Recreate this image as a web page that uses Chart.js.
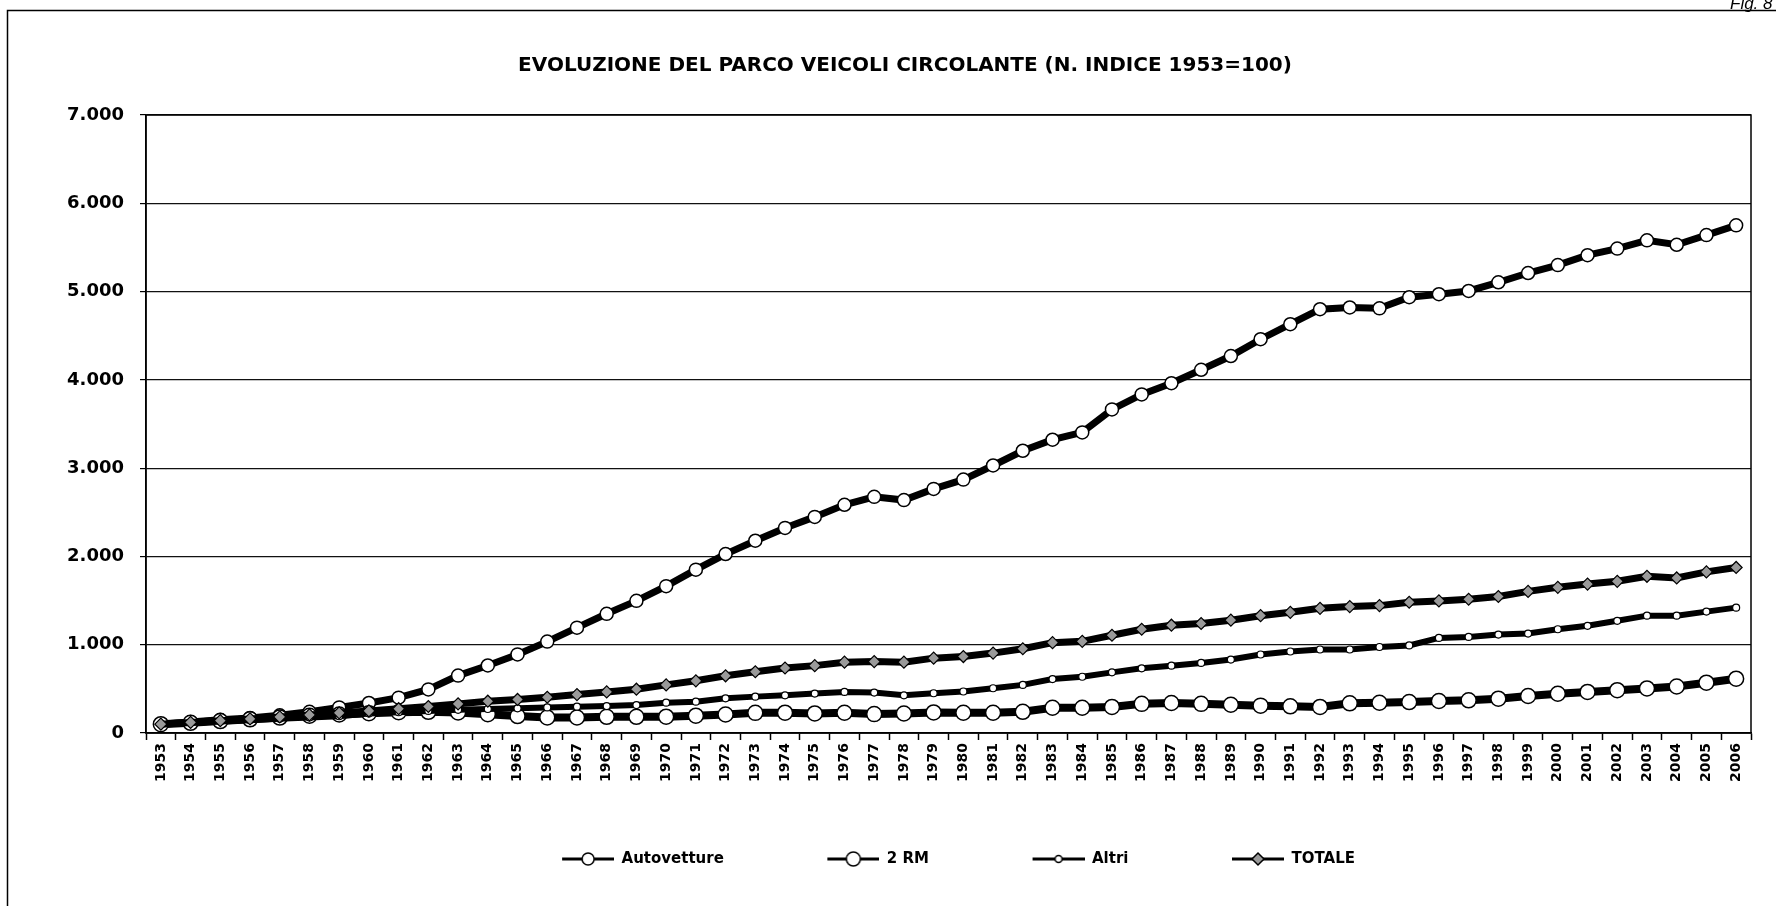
<!DOCTYPE html>
<html>
<head>
<meta charset="utf-8">
<script src="https://cdn.jsdelivr.net/npm/chart.js@4.4.1/dist/chart.umd.min.js"></script>
<style>
  html, body { margin: 0; padding: 0; background: #fff; }
  #wrap { width: 1776px; height: 906px; }
</style>
</head>
<body>
<div id="wrap"><canvas id="parco" width="1776" height="906"></canvas></div>
<script>
var anni = ["1953","1954","1955","1956","1957","1958","1959","1960","1961","1962",
  "1963","1964","1965","1966","1967","1968","1969","1970","1971","1972",
  "1973","1974","1975","1976","1977","1978","1979","1980","1981","1982",
  "1983","1984","1985","1986","1987","1988","1989","1990","1991","1992",
  "1993","1994","1995","1996","1997","1998","1999","2000","2001","2002",
  "2003","2004","2005","2006"];

var autovetture = [100, 125, 150, 170, 200, 240, 290, 340, 400, 494,
  650, 765, 890, 1035, 1193, 1350, 1497, 1663, 1850, 2027,
  2178, 2323, 2448, 2585, 2675, 2638, 2765, 2870, 3030, 3197,
  3322, 3405, 3665, 3835, 3962, 4114, 4270, 4460, 4630, 4800,
  4820, 4810, 4936, 4970, 5007, 5105, 5210, 5300, 5412, 5487,
  5580, 5530, 5640, 5750];

var dueRuote = [100, 115, 135, 155, 175, 195, 210, 225, 235, 240,
  232, 212, 192, 176, 176, 183, 183, 185, 196, 210,
  228, 230, 222, 229, 214, 221, 233, 229, 229, 240,
  286, 286, 295, 330, 340, 330, 320, 310, 302, 295,
  336, 343, 350, 362, 370, 389, 419, 445, 465, 485,
  505, 527, 570, 615];

var altri = [100, 115, 130, 145, 160, 175, 190, 220, 235, 250,
  262, 272, 280, 290, 298, 305, 316, 343, 355, 393,
  412, 427, 447, 465, 458, 427, 450, 470, 507, 545,
  611, 637, 687, 733, 763, 794, 832, 889, 923, 946,
  946, 974, 992, 1077, 1088, 1115, 1126, 1175, 1214, 1271,
  1329, 1329, 1375, 1420];

var totale = [100, 120, 140, 160, 182, 205, 228, 250, 275, 300,
  330, 360, 380, 405, 435, 465, 496, 545, 591, 648,
  694, 736, 763, 802, 809, 802, 848, 866, 905, 954,
  1023, 1038, 1107, 1175, 1221, 1240, 1278, 1329, 1367, 1412,
  1432, 1443, 1481, 1496, 1515, 1546, 1604, 1650, 1687, 1718,
  1775, 1756, 1825, 1875];

var nomiSerie = ["Autovetture", "2 RM", "Altri", "TOTALE"];
var yTicks = [0, 1000, 2000, 3000, 4000, 5000, 6000, 7000];

// icone della legenda: trattino + marcatore, con margine trasparente a sinistra
var margine = 40;
function iconaLegenda(tipo, r, fill) {
  var c = document.createElement("canvas");
  c.width = margine + 52;
  c.height = 22;
  var g = c.getContext("2d");
  g.strokeStyle = "#000";
  g.lineWidth = 3;
  g.beginPath();
  g.moveTo(margine, 11);
  g.lineTo(margine + 52, 11);
  g.stroke();
  g.fillStyle = fill;
  g.lineWidth = 1.5;
  g.beginPath();
  if (tipo === "rombo") {
    var cx = margine + 26;
    g.moveTo(cx - r, 11); g.lineTo(cx, 11 - r); g.lineTo(cx + r, 11); g.lineTo(cx, 11 + r);
    g.closePath();
  } else {
    g.arc(margine + 26, 11, r, 0, Math.PI * 2);
  }
  g.fill();
  g.stroke();
  return c;
}
var icone = [
  iconaLegenda("cerchio", 6, "#fff"),
  iconaLegenda("cerchio", 7, "#fff"),
  iconaLegenda("cerchio", 3.5, "#fff"),
  iconaLegenda("rombo", 6, "#9a9a9a")
];

function puntini(v) {
  return String(v).replace(/\B(?=(\d{3})+(?!\d))/g, ".");
}

var cornice = {
  id: "cornice",
  afterLayout: function (chart) {
    // legenda un po' spostata a sinistra come nell'originale
    chart.legend.left -= 10;
    chart.legend.right -= 10;
  },
  beforeDraw: function (chart) {
    var ctx = chart.ctx;
    ctx.save();
    ctx.fillStyle = "#fff";
    ctx.fillRect(0, 0, chart.width, chart.height);
    ctx.restore();
  },
  afterDraw: function (chart) {
    var ctx = chart.ctx, a = chart.chartArea;
    ctx.save();
    ctx.strokeStyle = "#000";
    ctx.lineWidth = 1.5;
    ctx.strokeRect(a.left, a.top, a.right - a.left, a.bottom - a.top);
    ctx.strokeRect(7.5, 10.5, 1800, 1000);
    ctx.fillStyle = "#000";
    ctx.font = "italic 17px 'Liberation Sans'";
    ctx.textBaseline = "alphabetic";
    ctx.fillText("Fig. 8", 1730, 9);
    ctx.restore();
  }
};

var ctx = document.getElementById("parco").getContext("2d");

var grafico = new Chart(ctx, {
  type: "line",
  data: {
    labels: anni,
    datasets: [
      {
        label: nomiSerie[0],
        data: autovetture,
        borderColor: "#000",
        borderWidth: 7,
        pointStyle: "circle",
        pointRadius: 6.5,
        pointBackgroundColor: "#fff",
        pointBorderColor: "#000",
        pointBorderWidth: 1.5,
        order: 3
      },
      {
        label: nomiSerie[1],
        data: dueRuote,
        borderColor: "#000",
        borderWidth: 8,
        pointStyle: "circle",
        pointRadius: 7.5,
        pointBackgroundColor: "#fff",
        pointBorderColor: "#000",
        pointBorderWidth: 1.5,
        order: 2
      },
      {
        label: nomiSerie[2],
        data: altri,
        borderColor: "#000",
        borderWidth: 6,
        pointStyle: "circle",
        pointRadius: 3.5,
        pointBackgroundColor: "#fff",
        pointBorderColor: "#000",
        pointBorderWidth: 1.2,
        order: 1
      },
      {
        label: nomiSerie[3],
        data: totale,
        borderColor: "#000",
        borderWidth: 7,
        pointStyle: "rectRot",
        pointRadius: 6,
        pointBackgroundColor: "#9a9a9a",
        pointBorderColor: "#000",
        pointBorderWidth: 1.2,
        order: 0
      }
    ]
  },
  options: {
    responsive: false,
    animation: false,
    devicePixelRatio: 1,
    layout: { padding: { left: 59, right: 25, top: 0, bottom: 29.5 } },
    elements: { line: { tension: 0 } },
    plugins: {
      title: {
        display: true,
        text: "EVOLUZIONE DEL PARCO VEICOLI CIRCOLANTE (N. INDICE 1953=100)",
        color: "#000",
        font: { family: "'DejaVu Sans'", size: 20, weight: "bold" },
        padding: { top: 54, bottom: 37 }
      },
      legend: {
        position: "bottom",
        fullSize: false,
        labels: {
          color: "#000",
          font: { family: "'DejaVu Sans'", size: 15, weight: "bold" },
          usePointStyle: true,
          pointStyleWidth: margine + 52,
          padding: 63.5,
          sort: function (a, b) { return a.datasetIndex - b.datasetIndex; },
          generateLabels: function (chart) {
            var items = Chart.defaults.plugins.legend.labels.generateLabels(chart);
            items.forEach(function (it) { it.pointStyle = icone[it.datasetIndex]; });
            return items;
          }
        }
      },
      tooltip: { enabled: false }
    },
    scales: {
      x: {
        offset: true,
        afterFit: function (s) { s.height = 55; },
        grid: {
          offset: true,
          drawOnChartArea: false,
          drawTicks: true,
          tickLength: 7,
          tickColor: "#000",
          tickWidth: 1.5
        },
        border: { display: true, color: "#000", width: 1.5 },
        ticks: {
          autoSkip: false,
          minRotation: 90,
          maxRotation: 90,
          padding: 3,
          color: "#000",
          font: { family: "'DejaVu Sans'", size: 14, weight: "bold" }
        }
      },
      y: {
        min: 0,
        max: 7000,
        afterFit: function (s) { s.width = 87; },
        afterBuildTicks: function (s) { s.ticks = yTicks.map(function (v) { return { value: v }; }); },
        grid: {
          color: "#111",
          lineWidth: 1.2,
          tickLength: 6,
          tickColor: "#000"
        },
        border: { display: true, color: "#000", width: 1.5 },
        ticks: {
          padding: 16,
          color: "#000",
          font: { family: "'DejaVu Sans'", size: 18, weight: "bold" },
          callback: function (v) { return puntini(v); }
        }
      }
    }
  },
  plugins: [cornice]
});
</script>
</body>
</html>
